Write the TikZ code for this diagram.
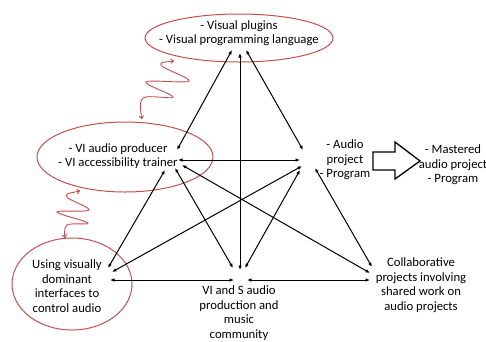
\documentclass[tikz,border=0pt]{standalone}
\usepackage{fontspec}
\setmainfont{Carlito}
\usetikzlibrary{shapes.geometric,arrows.meta}
\definecolor{ovalred}{RGB}{192,80,77}
\tikzset{
  oval/.style={ellipse, draw=ovalred, line width=1pt, inner sep=0pt},
  lbl/.style={align=center, font=\fontsize{12.7}{14.6}\selectfont, inner sep=0pt},
  link/.style={line width=1pt, {Latex[length=4.5pt,width=3.6pt]}-{Latex[length=4.5pt,width=3.6pt]}},
  squig/.style={draw=ovalred, line width=0.9pt, {To[length=3.5pt,width=5pt]}-{To[length=3.5pt,width=5pt]}},
  bigarrow/.style={draw=black, line width=1.3pt, line join=miter}
}
\begin{document}
\begin{tikzpicture}[x=1pt,y=-1pt]
\useasboundingbox (0,0) rectangle (486,341);
% ellipses
\node[oval, minimum width=188pt, minimum height=48pt] (top) at (239,38) {};
\node[oval, minimum width=176pt, minimum height=70pt] (left) at (125,157) {};
\node[oval, minimum width=120pt, minimum height=92pt] (bl) at (72,284) {};
% labels
\node[lbl] (toptext) at (239,33) {- Visual plugins\\- Visual programming language};
\node[lbl] (lefttext) at (118,156) {- VI audio producer\\- VI accessibility trainer};
\node[lbl] (bltext) at (67,286) {Using visually\\dominant\\interfaces to\\control audio};
\node[lbl] (rtext) at (345,160) {- Audio\\project\\- Program};
\node[lbl] (mtext) at (453,165) {- Mastered\\audio project\\- Program};
\node[lbl] (btext) at (239,313) {VI and S audio\\production and\\music\\community};
\node[lbl] (brtext) at (421,285) {Collaborative\\projects involving\\shared work on\\audio projects};
% endpoints
\coordinate (T1) at (232,50); \coordinate (T2) at (240,53); \coordinate (T3) at (246,50);
\coordinate (L1) at (177,150); \coordinate (L2) at (178,160); \coordinate (L3) at (165,170);
\coordinate (L4) at (175,168); \coordinate (L5) at (182,165);
\coordinate (R1) at (303,150); \coordinate (R2) at (300,160); \coordinate (R3) at (302,166);
\coordinate (R4) at (300,170); \coordinate (R5) at (315,168);
\coordinate (B1) at (233,268); \coordinate (B2) at (240,270); \coordinate (B3) at (245,268);
\coordinate (B4) at (234,280); \coordinate (B5) at (247,280);
\coordinate (BL1) at (108,268); \coordinate (BL2) at (112,272); \coordinate (BL3) at (110,280);
\coordinate (BR1) at (370,273); \coordinate (BR2) at (372,267); \coordinate (BR3) at (370,280);
% connectors
\draw[link] (T1) -- (L1);
\draw[link] (T3) -- (R1);
\draw[link] (T2) -- (B2);
\draw[link] (L2) -- (R2);
\draw[link] (L3) -- (BL1);
\draw[link] (L4) -- (B1);
\draw[link] (L5) -- (BR1);
\draw[link] (R3) -- (BL2);
\draw[link] (R4) -- (B3);
\draw[link] (R5) -- (BR2);
\draw[link] (BL3) -- (B4);
\draw[link] (B5) -- (BR3);
% big outline arrow
\draw[bigarrow] (373,152) -- (395,152) -- (395,142) -- (420,161) -- (395,179) -- (395,170) -- (373,170) -- cycle;
% squiggles
\coordinate (S1a) at (174,61); \coordinate (S1b) at (142,119);
\draw[squig] plot[smooth, tension=0.6] coordinates {(S1a) (162,66) (189,81) (146,82) (173,97) (143,98) (S1b)};
\coordinate (S2a) at (80,191); \coordinate (S2b) at (65,238);
\draw[squig] plot[smooth, tension=0.6] coordinates {(S2a) (67,197) (89,210) (57,212) (88,223) (67,225) (S2b)};
\end{tikzpicture}
\end{document}
